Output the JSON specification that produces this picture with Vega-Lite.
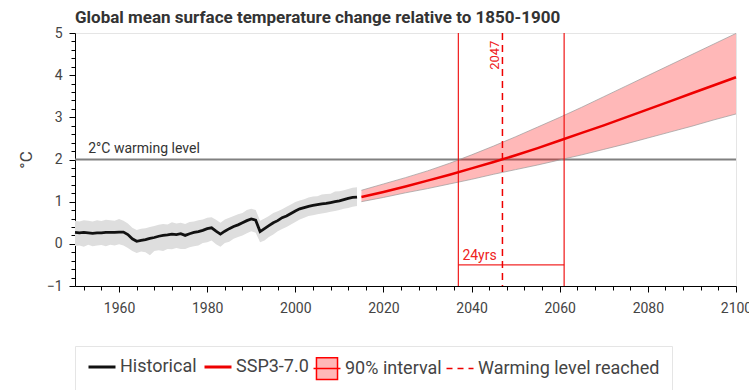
{
  "$schema": "https://vega.github.io/schema/vega-lite/v6.json",
  "width": 661,
  "height": 253,
  "autosize": {"type": "none"},
  "padding": {"left": 75, "top": 33, "right": 13, "bottom": 104},
  "title": {"text": "Global mean surface temperature change relative to 1850-1900", "anchor": "start", "frame": "group", "fontSize": 17, "font": "Roboto", "fontWeight": "bold", "color": "#333333", "offset": -1},
  "config": {"font": "Roboto", "view": {"stroke": "#e5e5e5"}},
  "resolve": {"axis": {"x": "independent", "y": "independent"}},
  "datasets": {
    "hist": [
      {"year": 1950, "mean": 0.27, "lo": -0.05, "hi": 0.55},
      {"year": 1951, "mean": 0.26, "lo": -0.04, "hi": 0.53},
      {"year": 1952, "mean": 0.27, "lo": -0.07, "hi": 0.56},
      {"year": 1953, "mean": 0.26, "lo": -0.02, "hi": 0.55},
      {"year": 1954, "mean": 0.25, "lo": -0.06, "hi": 0.53},
      {"year": 1955, "mean": 0.26, "lo": -0.04, "hi": 0.56},
      {"year": 1956, "mean": 0.26, "lo": -0.03, "hi": 0.54},
      {"year": 1957, "mean": 0.27, "lo": -0.06, "hi": 0.57},
      {"year": 1958, "mean": 0.27, "lo": -0.02, "hi": 0.56},
      {"year": 1959, "mean": 0.27, "lo": -0.04, "hi": 0.55},
      {"year": 1960, "mean": 0.28, "lo": -0.01, "hi": 0.59},
      {"year": 1961, "mean": 0.28, "lo": -0.04, "hi": 0.55},
      {"year": 1962, "mean": 0.22, "lo": -0.10, "hi": 0.48},
      {"year": 1963, "mean": 0.12, "lo": -0.17, "hi": 0.38},
      {"year": 1964, "mean": 0.06, "lo": -0.22, "hi": 0.33},
      {"year": 1965, "mean": 0.08, "lo": -0.18, "hi": 0.36},
      {"year": 1966, "mean": 0.10, "lo": -0.20, "hi": 0.37},
      {"year": 1967, "mean": 0.13, "lo": -0.27, "hi": 0.40},
      {"year": 1968, "mean": 0.15, "lo": -0.17, "hi": 0.42},
      {"year": 1969, "mean": 0.18, "lo": -0.15, "hi": 0.45},
      {"year": 1970, "mean": 0.20, "lo": -0.17, "hi": 0.47},
      {"year": 1971, "mean": 0.21, "lo": -0.12, "hi": 0.46},
      {"year": 1972, "mean": 0.23, "lo": -0.13, "hi": 0.51},
      {"year": 1973, "mean": 0.22, "lo": -0.10, "hi": 0.48},
      {"year": 1974, "mean": 0.24, "lo": -0.12, "hi": 0.50},
      {"year": 1975, "mean": 0.20, "lo": -0.12, "hi": 0.47},
      {"year": 1976, "mean": 0.24, "lo": -0.08, "hi": 0.52},
      {"year": 1977, "mean": 0.27, "lo": -0.06, "hi": 0.53},
      {"year": 1978, "mean": 0.29, "lo": -0.04, "hi": 0.56},
      {"year": 1979, "mean": 0.32, "lo": 0.02, "hi": 0.58},
      {"year": 1980, "mean": 0.36, "lo": 0.04, "hi": 0.62},
      {"year": 1981, "mean": 0.38, "lo": 0.08, "hi": 0.63},
      {"year": 1982, "mean": 0.30, "lo": -0.01, "hi": 0.57},
      {"year": 1983, "mean": 0.23, "lo": -0.07, "hi": 0.50},
      {"year": 1984, "mean": 0.30, "lo": 0.02, "hi": 0.58},
      {"year": 1985, "mean": 0.36, "lo": 0.05, "hi": 0.62},
      {"year": 1986, "mean": 0.41, "lo": 0.12, "hi": 0.66},
      {"year": 1987, "mean": 0.45, "lo": 0.16, "hi": 0.70},
      {"year": 1988, "mean": 0.50, "lo": 0.20, "hi": 0.73},
      {"year": 1989, "mean": 0.55, "lo": 0.25, "hi": 0.80},
      {"year": 1990, "mean": 0.59, "lo": 0.30, "hi": 0.83},
      {"year": 1991, "mean": 0.56, "lo": 0.26, "hi": 0.80},
      {"year": 1992, "mean": 0.29, "lo": 0.04, "hi": 0.55},
      {"year": 1993, "mean": 0.36, "lo": 0.08, "hi": 0.60},
      {"year": 1994, "mean": 0.43, "lo": 0.16, "hi": 0.66},
      {"year": 1995, "mean": 0.50, "lo": 0.22, "hi": 0.73},
      {"year": 1996, "mean": 0.55, "lo": 0.30, "hi": 0.77},
      {"year": 1997, "mean": 0.62, "lo": 0.35, "hi": 0.82},
      {"year": 1998, "mean": 0.66, "lo": 0.40, "hi": 0.88},
      {"year": 1999, "mean": 0.72, "lo": 0.46, "hi": 0.93},
      {"year": 2000, "mean": 0.78, "lo": 0.52, "hi": 0.99},
      {"year": 2001, "mean": 0.83, "lo": 0.58, "hi": 1.03},
      {"year": 2002, "mean": 0.86, "lo": 0.62, "hi": 1.06},
      {"year": 2003, "mean": 0.89, "lo": 0.66, "hi": 1.10},
      {"year": 2004, "mean": 0.91, "lo": 0.68, "hi": 1.12},
      {"year": 2005, "mean": 0.93, "lo": 0.70, "hi": 1.13},
      {"year": 2006, "mean": 0.95, "lo": 0.72, "hi": 1.17},
      {"year": 2007, "mean": 0.96, "lo": 0.74, "hi": 1.18},
      {"year": 2008, "mean": 0.98, "lo": 0.76, "hi": 1.19},
      {"year": 2009, "mean": 1.00, "lo": 0.78, "hi": 1.24},
      {"year": 2010, "mean": 1.02, "lo": 0.80, "hi": 1.25},
      {"year": 2011, "mean": 1.05, "lo": 0.83, "hi": 1.27},
      {"year": 2012, "mean": 1.08, "lo": 0.85, "hi": 1.30},
      {"year": 2013, "mean": 1.10, "lo": 0.88, "hi": 1.33},
      {"year": 2014, "mean": 1.11, "lo": 0.90, "hi": 1.34}
    ],
    "proj": [
      {"year": 2015, "mean": 1.11, "lo": 1.00, "hi": 1.27},
      {"year": 2020, "mean": 1.23, "lo": 1.10, "hi": 1.42},
      {"year": 2025, "mean": 1.36, "lo": 1.21, "hi": 1.57},
      {"year": 2030, "mean": 1.50, "lo": 1.31, "hi": 1.73},
      {"year": 2035, "mean": 1.64, "lo": 1.42, "hi": 1.91},
      {"year": 2040, "mean": 1.79, "lo": 1.53, "hi": 2.11},
      {"year": 2045, "mean": 1.94, "lo": 1.65, "hi": 2.32},
      {"year": 2050, "mean": 2.10, "lo": 1.76, "hi": 2.54},
      {"year": 2055, "mean": 2.27, "lo": 1.87, "hi": 2.77},
      {"year": 2060, "mean": 2.45, "lo": 1.99, "hi": 3.00},
      {"year": 2065, "mean": 2.63, "lo": 2.11, "hi": 3.24},
      {"year": 2070, "mean": 2.81, "lo": 2.24, "hi": 3.49},
      {"year": 2075, "mean": 3.00, "lo": 2.37, "hi": 3.74},
      {"year": 2080, "mean": 3.19, "lo": 2.51, "hi": 3.99},
      {"year": 2085, "mean": 3.38, "lo": 2.65, "hi": 4.24},
      {"year": 2090, "mean": 3.57, "lo": 2.79, "hi": 4.49},
      {"year": 2095, "mean": 3.76, "lo": 2.94, "hi": 4.74},
      {"year": 2100, "mean": 3.95, "lo": 3.08, "hi": 4.99}
    ]
  },
  "layer": [
    {
      "data": {"name": "hist"},
      "mark": {"type": "area", "color": "#dedede", "opacity": 1},
      "encoding": {
        "x": {"field": "year", "type": "quantitative", "scale": {"domain": [1950, 2100], "nice": false, "zero": false},
          "axis": {"values": [1960, 1980, 2000, 2020, 2040, 2060, 2080, 2100], "title": null, "grid": false, "orient": "bottom", "format": "d", "tickSize": 6, "tickColor": "#000000", "domainColor": "#000000", "labelFontSize": 14, "labelColor": "#444444", "labelPadding": 9, "labelFlush": false, "labelOverlap": false}},
        "y": {"field": "lo", "type": "quantitative", "scale": {"domain": [-1, 5], "nice": false, "zero": false},
          "axis": {"values": [-1, 0, 1, 2, 3, 4, 5], "title": "°C", "titleFontSize": 17, "titleFontWeight": "normal", "titleColor": "#444444", "titlePadding": 11, "grid": false, "orient": "left", "tickSize": 6, "tickColor": "#000000", "domainColor": "#000000", "labelFontSize": 14, "labelColor": "#444444", "labelPadding": 7, "labelFlush": false, "labelOverlap": false}},
        "y2": {"field": "hi"}
      }
    },
    {
      "data": {"name": "hist"},
      "mark": {"type": "line", "strokeWidth": 2.8},
      "encoding": {
        "x": {"field": "year", "type": "quantitative",
          "axis": {"values": [1952, 1956, 1964, 1968, 1972, 1976, 1984, 1988, 1992, 1996, 2004, 2008, 2012, 2016, 2024, 2028, 2032, 2036, 2044, 2048, 2052, 2056, 2064, 2068, 2072, 2076, 2084, 2088, 2092, 2096], "labels": false, "domain": false, "grid": false, "title": null, "orient": "bottom", "tickSize": 4, "tickColor": "#000000"}},
        "y": {"field": "mean", "type": "quantitative",
          "axis": {"values": [-0.8, -0.6, -0.4, -0.2, 0.2, 0.4, 0.6, 0.8, 1.2, 1.4, 1.6, 1.8, 2.2, 2.4, 2.6, 2.8, 3.2, 3.4, 3.6, 3.8, 4.2, 4.4, 4.6, 4.8], "labels": false, "domain": false, "grid": false, "title": null, "orient": "left", "tickSize": 4, "tickColor": "#000000"}},
        "color": {"datum": "Historical", "type": "nominal",
          "scale": {"domain": ["Historical", "SSP3-7.0", "90% interval", "Warming level reached"], "range": ["#111111", "#ee0000", "#ff0000", "#ee0000"]},
          "legend": {
            "orient": "bottom", "direction": "horizontal", "title": null,
            "offset": 31, "padding": 12, "strokeColor": "#e5e5e5", "fillColor": "white",
            "labelFontSize": 18, "labelColor": "#444444", "labelFont": "Roboto", "labelLimit": 400,
            "symbolSize": 729, "symbolOffset": 6, "labelOffset": 9, "columnPadding": 1, "symbolType": "stroke",
            "encode": {"symbols": {"update": {
              "shape": {"signal": "datum.value === '90% interval' ? 'M-0.78,-0.8H0.78V0.8H-0.78Z M-1,0H1' : 'M-1,-0.8M-1,0H1M1,0.8'"},
              "fillOpacity": {"signal": "datum.value === '90% interval' ? 0.28 : 0"},
              "stroke": {"signal": "datum.value === 'Historical' ? '#111111' : '#ee0000'"},
              "strokeWidth": {"signal": "(datum.value === 'Historical' || datum.value === 'SSP3-7.0') ? 3 : 1.5"},
              "strokeDash": {"signal": "datum.value === 'Warming level reached' ? [6, 5] : [1, 0]"},
              "opacity": {"value": 1}
            }}}
          }}
      }
    },
    {
      "data": {"values": [{"t": 2}]},
      "mark": {"type": "rule", "color": "#808080", "strokeWidth": 2},
      "encoding": {"y": {"field": "t", "type": "quantitative", "axis": null}}
    },
    {
      "data": {"name": "proj"},
      "mark": {"type": "area", "opacity": 0.28},
      "encoding": {
        "x": {"field": "year", "type": "quantitative", "axis": null},
        "y": {"field": "lo", "type": "quantitative", "axis": null},
        "y2": {"field": "hi"},
        "color": {"datum": "90% interval", "type": "nominal"}
      }
    },
    {
      "data": {"name": "proj"},
      "mark": {"type": "line", "color": "#9a9a9a", "strokeWidth": 1, "opacity": 0.7},
      "encoding": {
        "x": {"field": "year", "type": "quantitative", "axis": null},
        "y": {"field": "hi", "type": "quantitative", "axis": null}
      }
    },
    {
      "data": {"name": "proj"},
      "mark": {"type": "line", "color": "#9a9a9a", "strokeWidth": 1, "opacity": 0.7},
      "encoding": {
        "x": {"field": "year", "type": "quantitative", "axis": null},
        "y": {"field": "lo", "type": "quantitative", "axis": null}
      }
    },
    {
      "data": {"values": [{"year": 2037}, {"year": 2061}]},
      "mark": {"type": "rule", "color": "#ee0000", "strokeWidth": 1.3, "opacity": 0.85},
      "encoding": {"x": {"field": "year", "type": "quantitative", "axis": null}}
    },
    {
      "data": {"values": [{"year": 2047}]},
      "mark": {"type": "rule", "strokeWidth": 1.5, "strokeDash": [7, 5]},
      "encoding": {
        "x": {"field": "year", "type": "quantitative", "axis": null},
        "color": {"datum": "Warming level reached", "type": "nominal"}
      }
    },
    {
      "data": {"name": "proj"},
      "mark": {"type": "line", "strokeWidth": 2.5},
      "encoding": {
        "x": {"field": "year", "type": "quantitative", "axis": null},
        "y": {"field": "mean", "type": "quantitative", "axis": null},
        "color": {"datum": "SSP3-7.0", "type": "nominal"}
      }
    },
    {
      "data": {"values": [{"start": 2037, "end": 2061, "t": -0.5}]},
      "mark": {"type": "rule", "color": "#ee0000", "strokeWidth": 1.3, "opacity": 0.85},
      "encoding": {
        "x": {"field": "start", "type": "quantitative", "axis": null},
        "x2": {"field": "end"},
        "y": {"field": "t", "type": "quantitative", "axis": null}
      }
    },
    {
      "data": {"values": [{"year": 2037, "t": -0.5, "label": "24yrs"}]},
      "mark": {"type": "text", "align": "left", "baseline": "alphabetic", "dx": 4, "dy": -5, "fontSize": 14, "color": "#ee2222"},
      "encoding": {
        "x": {"field": "year", "type": "quantitative", "axis": null},
        "y": {"field": "t", "type": "quantitative", "axis": null},
        "text": {"field": "label"}
      }
    },
    {
      "data": {"values": [{"year": 2047, "t": 4.82, "label": "2047"}]},
      "mark": {"type": "text", "align": "right", "baseline": "bottom", "angle": 270, "fontSize": 13, "color": "#ee2222"},
      "encoding": {
        "x": {"field": "year", "type": "quantitative", "axis": null},
        "y": {"field": "t", "type": "quantitative", "axis": null},
        "text": {"field": "label"}
      }
    },
    {
      "data": {"values": [{"year": 1953, "t": 2, "label": "2°C warming level"}]},
      "mark": {"type": "text", "align": "left", "baseline": "alphabetic", "dy": -7, "fontSize": 14, "color": "#333333"},
      "encoding": {
        "x": {"field": "year", "type": "quantitative", "axis": null},
        "y": {"field": "t", "type": "quantitative", "axis": null},
        "text": {"field": "label"}
      }
    }
  ]
}
